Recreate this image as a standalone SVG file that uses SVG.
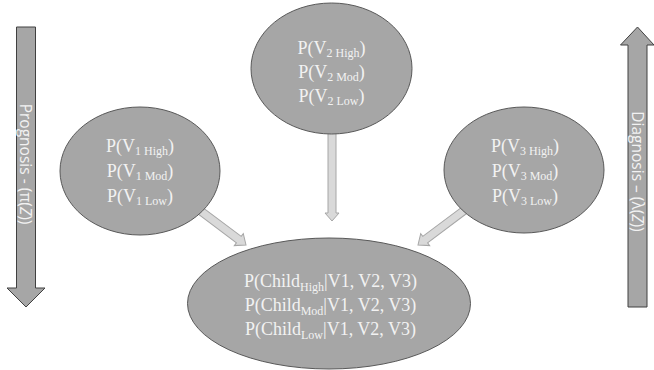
<svg xmlns="http://www.w3.org/2000/svg" width="654" height="370" viewBox="0 0 654 370">
  <style>
    .node { fill: #a6a6a6; stroke: #595959; stroke-width: 1; }
    .lbl { font-family: "Liberation Serif", "Times New Roman", serif; font-size: 18px; text-anchor: middle; }
    .sub { font-size: 12px; }
    .conn { fill: #d9d9d9; stroke: #a6a6a6; stroke-width: 1; }
    .big { fill: #a6a6a6; stroke: #404040; stroke-width: 1; }
    .side { font-family: "Open Sans", "Liberation Sans", sans-serif; font-size: 15.5px; text-anchor: middle; dominant-baseline: central; }
  </style>
  <rect width="654" height="370" fill="#ffffff"/>

  <g id="prognosis">
    <polygon class="big" points="16.5,27 35.5,27 35.5,288 45,288 26,307 7,288 16.5,288"/>
    <text class="side" fill="#f2f2f2" transform="translate(26,164) rotate(90)">Prognosis - (π(<tspan font-style="italic">Z</tspan>))</text>
  </g>

  <g id="diagnosis">
    <polygon class="big" points="628,307 647,307 647,45 654,45 637.5,27 620.5,45 628,45"/>
    <text class="side" fill="#f2f2f2" transform="translate(638,171.5) rotate(90)">Diagnosis – (λ(<tspan font-style="italic">Z</tspan>))</text>
  </g>

  <g id="connectors">
    <polygon class="conn" transform="translate(246,245) rotate(36.87)" points="-62,-4 -9,-4 -9,-7.5 0,0 -9,7.5 -9,4 -62,4"/>
    <polygon class="conn" transform="translate(332,221) rotate(90)" points="-90,-4 -8,-4 -8,-7 0,0 -8,7 -8,4 -90,4"/>
    <polygon class="conn" transform="translate(418,245) rotate(143.13)" points="-62,-4 -9,-4 -9,-7.5 0,0 -9,7.5 -9,4 -62,4"/>
  </g>

  <g id="v1" fill="#f2f2f2">
    <ellipse class="node" cx="140" cy="171" rx="80" ry="64"/>
    <text class="lbl" fill="#f2f2f2" x="140" y="152">P(V<tspan class="sub" dy="3">1 High</tspan><tspan dy="-3">)</tspan></text>
    <text class="lbl" fill="#f2f2f2" x="140" y="177">P(V<tspan class="sub" dy="3">1 Mod</tspan><tspan dy="-3">)</tspan></text>
    <text class="lbl" fill="#f2f2f2" x="140" y="202">P(V<tspan class="sub" dy="3">1 Low</tspan><tspan dy="-3">)</tspan></text>
  </g>

  <g id="v2" fill="#f2f2f2">
    <ellipse class="node" cx="331.5" cy="68.5" rx="80.5" ry="65.5"/>
    <text class="lbl" fill="#f2f2f2" x="331.5" y="54">P(V<tspan class="sub" dy="3">2 High</tspan><tspan dy="-3">)</tspan></text>
    <text class="lbl" fill="#f2f2f2" x="331.5" y="78">P(V<tspan class="sub" dy="3">2 Mod</tspan><tspan dy="-3">)</tspan></text>
    <text class="lbl" fill="#f2f2f2" x="331.5" y="102">P(V<tspan class="sub" dy="3">2 Low</tspan><tspan dy="-3">)</tspan></text>
  </g>

  <g id="v3" fill="#f2f2f2">
    <ellipse class="node" cx="524" cy="170" rx="80" ry="63"/>
    <text class="lbl" fill="#f2f2f2" x="525" y="152">P(V<tspan class="sub" dy="3">3 High</tspan><tspan dy="-3">)</tspan></text>
    <text class="lbl" fill="#f2f2f2" x="525" y="177">P(V<tspan class="sub" dy="3">3 Mod</tspan><tspan dy="-3">)</tspan></text>
    <text class="lbl" fill="#f2f2f2" x="525" y="202">P(V<tspan class="sub" dy="3">3 Low</tspan><tspan dy="-3">)</tspan></text>
  </g>

  <g id="child" fill="#f2f2f2">
    <ellipse class="node" cx="329" cy="303.5" rx="141.5" ry="65.5"/>
    <text class="lbl" fill="#f2f2f2" x="330.5" y="287">P(Child<tspan class="sub" dy="4">High</tspan><tspan dy="-4">|V1, V2, V3)</tspan></text>
    <text class="lbl" fill="#f2f2f2" x="330.5" y="311">P(Child<tspan class="sub" dy="4">Mod</tspan><tspan dy="-4">|V1, V2, V3)</tspan></text>
    <text class="lbl" fill="#f2f2f2" x="330.5" y="335">P(Child<tspan class="sub" dy="4">Low</tspan><tspan dy="-4">|V1, V2, V3)</tspan></text>
  </g>
</svg>
